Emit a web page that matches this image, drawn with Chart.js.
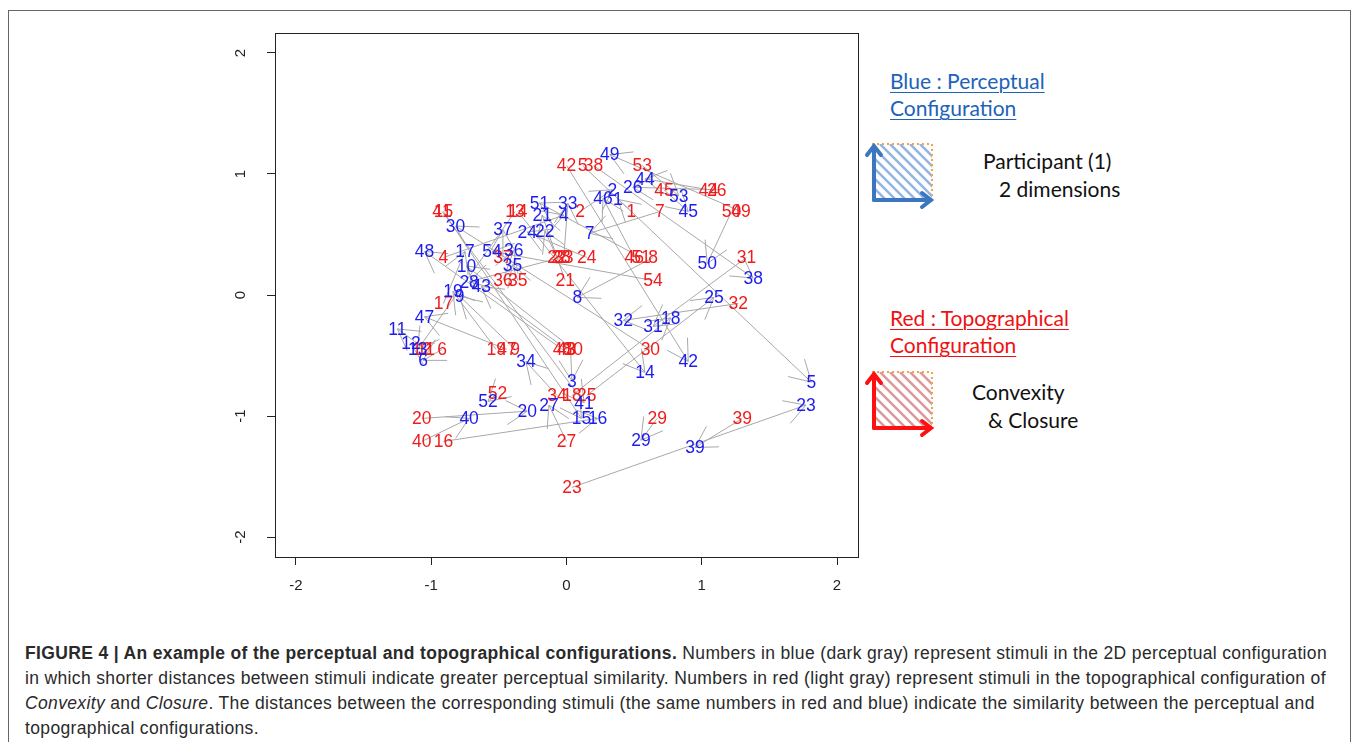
<!DOCTYPE html>
<html lang="en">
<head>
<meta charset="UTF-8" />
<title>Figure 4 | Perceptual and topographical configurations</title>
<script src="https://cdn.jsdelivr.net/npm/chart.js"></script>
<style>
  body { margin: 0; width: 1358px; height: 742px; background: #fff; position: relative; overflow: hidden; font-family: "Liberation Sans", Arial, sans-serif; }
  #frame { position: absolute; left: 8px; top: 10px; width: 1341px; height: 760px; border: 1px solid #666; }
  #plot { position: absolute; left: 220px; top: 20px; }
  .leg { position: absolute; font-family: Lato, "Open Sans", sans-serif; font-size: 21px; line-height: 21px; white-space: nowrap; color: #111; }
  .blue { color: #2063b8; text-decoration: underline; text-underline-offset: 3px; text-decoration-thickness: 1px; }
  .red { color: #ee1111; text-decoration: underline; text-underline-offset: 3px; text-decoration-thickness: 1px; }
  #caption { position: absolute; left: 25px; top: 641px; font-size: 17.5px; letter-spacing: 0.35px; line-height: 25px; color: #2a2a2a; white-space: nowrap; }
  #keys { position: absolute; left: 860px; top: 130px; }
</style>
</head>
<body>
  <div id="frame"></div>
  <canvas id="plot" width="660" height="600"></canvas>

  <!-- legend on the right -->
  <div class="leg blue" style="left:890px; top:70px;">Blue : Perceptual</div>
  <div class="leg blue" style="left:890px; top:97px;">Configuration</div>
  <div class="leg" style="left:983px; top:150px;">Participant (1)</div>
  <div class="leg" style="left:999px; top:178px;">2 dimensions</div>
  <div class="leg red" style="left:890px; top:307px;">Red : Topographical</div>
  <div class="leg red" style="left:890px; top:334px;">Configuration</div>
  <div class="leg" style="left:972px; top:381px;">Convexity</div>
  <div class="leg" style="left:988px; top:409px;">&amp; Closure</div>

  <svg id="keys" width="90" height="320" xmlns="http://www.w3.org/2000/svg">
    <defs>
      <clipPath id="cb"><rect x="12" y="14" width="60" height="56" /></clipPath>
      <clipPath id="cr"><rect x="12" y="242" width="60" height="56" /></clipPath>
    </defs>
    <g clip-path="url(#cb)" stroke="#92b6e2" stroke-width="2.5">
      <path d="M-50 14 l70 70 M-40 14 l70 70 M-30 14 l70 70 M-20 14 l70 70 M-10 14 l70 70 M0 14 l70 70 M10 14 l70 70 M20 14 l70 70 M30 14 l70 70 M40 14 l70 70 M50 14 l70 70 M60 14 l70 70" />
    </g>
    <g clip-path="url(#cr)" stroke="#dc9a9a" stroke-width="2.5">
      <path d="M-50 242 l70 70 M-40 242 l70 70 M-30 242 l70 70 M-20 242 l70 70 M-10 242 l70 70 M0 242 l70 70 M10 242 l70 70 M20 242 l70 70 M30 242 l70 70 M40 242 l70 70 M50 242 l70 70 M60 242 l70 70" />
    </g>
    <path d="M12 14 H72 V70" fill="none" stroke="#f3a14a" stroke-width="2" stroke-dasharray="2 3" />
    <path d="M12 242 H72 V298" fill="none" stroke="#f3a14a" stroke-width="2" stroke-dasharray="2 3" />
    <g stroke="#3c76c0" stroke-width="4" fill="none" stroke-linecap="round">
      <path d="M14 70 V17 M7 25 L14 16 L21 25" />
      <path d="M14 70 H70 M62 63 L71 70 L62 77" />
    </g>
    <g stroke="#ff1010" stroke-width="4" fill="none" stroke-linecap="round">
      <path d="M14 298 V245 M7 253 L14 244 L21 253" />
      <path d="M14 298 H70 M62 291 L71 298 L62 305" />
    </g>
  </svg>

  <div id="caption">
    <b>FIGURE 4 | An example of the perceptual and topographical configurations.</b> Numbers in blue (dark gray) represent stimuli in the 2D perceptual configuration<br>
    in which shorter distances between stimuli indicate greater perceptual similarity. Numbers in red (light gray) represent stimuli in the topographical configuration of<br>
    <i>Convexity</i> and <i>Closure</i>. The distances between the corresponding stimuli (the same numbers in red and blue) indicate the similarity between the perceptual and<br>
    topographical configurations.
  </div>

  <script>
    // stimulus numbers
    const ids = [1, 2, 3, 4, 5, 6, 7, 8, 9, 10, 11, 12, 13, 14, 15, 16, 17, 18, 19, 20,
      21, 22, 23, 24, 25, 26, 27, 28, 29, 30, 31, 32, 33, 34, 35, 36, 37, 38, 39, 40,
      41, 42, 43, 44, 45, 46, 47, 48, 49, 50, 51, 52, 53, 54];

    // blue: perceptual configuration (participant 1, 2 dimensions)
    const blueX = [0.38, 0.34, 0.04, -0.02, 1.81, -1.06, 0.17, 0.08, -0.79, -0.74,
      -1.25, -1.15, -1.10, 0.58, 0.11, 0.23, -0.75, 0.77, -0.84, -0.29,
      -0.18, -0.16, 1.77, -0.29, 1.09, 0.49, -0.13, -0.72, 0.55, -0.82,
      0.64, 0.42, 0.01, -0.30, -0.40, -0.39, -0.47, 1.38, 0.95, -0.72,
      0.13, 0.90, -0.63, 0.58, 0.90, 0.27, -1.05, -1.05, 0.32, 1.04,
      -0.20, -0.58, 0.83, -0.55];
    const blueY = [0.79, 0.87, -0.71, 0.66, -0.72, -0.54, 0.51, -0.02, -0.01, 0.24,
      -0.28, -0.40, -0.45, -0.64, -1.02, -1.02, 0.36, -0.19, 0.03, -0.96,
      0.66, 0.53, -0.91, 0.52, -0.02, 0.89, -0.91, 0.11, -1.20, 0.57,
      -0.26, -0.21, 0.76, -0.55, 0.25, 0.37, 0.54, 0.14, -1.26, -1.02,
      -0.89, -0.55, 0.07, 0.96, 0.69, 0.80, -0.18, 0.36, 1.16, 0.26,
      0.76, -0.88, 0.82, 0.36];

    // red: topographical configuration (convexity & closure)
    const redX = [0.48, 0.10, 0.03, -0.91, 0.12, -0.92, 0.69, 0.64, -0.38, 0.05,
      -1.04, -1.07, -0.38, -0.36, -0.91, -0.91, -0.91, 0.04, -0.52, -1.07,
      -0.01, -0.07, 0.04, 0.15, 0.15, 1.11, 0.00, -0.04, 0.67, 0.62,
      1.33, 1.27, -0.02, -0.07, -0.36, -0.47, -0.47, 0.20, 1.30, -1.07,
      -0.92, 0.00, 0.00, 1.05, 0.72, 0.50, -0.44, -0.03, 1.29, 1.22,
      0.55, -0.51, 0.56, 0.64];
    const redY = [0.69, 0.69, -0.45, 0.31, 1.07, -0.45, 0.69, 0.31, -0.45, -0.45,
      -0.45, -0.45, 0.69, 0.69, 0.69, -1.21, -0.07, -0.83, -0.45, -1.02,
      0.12, 0.31, -1.59, 0.31, -0.83, 0.87, -1.21, 0.31, -1.02, -0.45,
      0.31, -0.07, 0.31, -0.83, 0.12, 0.12, 0.31, 1.07, -1.02, -1.21,
      0.69, 1.07, -0.45, 0.87, 0.87, 0.31, -0.45, -0.45, 0.69, 0.69,
      0.31, -0.81, 1.07, 0.12];

    const xTicks = [-2, -1, 0, 1, 2];
    const yTicks = [-2, -1, 0, 1, 2];

    const blueCol = '#1c1cf0';
    const redCol = '#f01c1c';
    const lineCol = '#a8a8a8';

    // one segment per stimulus, red -> blue
    const segs = ids.map((id, i) => ({
      type: 'line',
      data: [{ x: redX[i], y: redY[i] }, { x: blueX[i], y: blueY[i] }],
      showLine: true,
      borderColor: lineCol,
      borderWidth: 1,
      pointRadius: 0,
      fill: false
    }));

    const labels = {
      id: 'labels',
      afterDatasetsDraw(chart) {
        const { ctx, chartArea, scales: { x, y } } = chart;
        ctx.save();
        // arrow heads at the blue end
        ctx.strokeStyle = lineCol;
        ctx.lineWidth = 1;
        ids.forEach((id, i) => {
          const bx = x.getPixelForValue(blueX[i]), by = y.getPixelForValue(blueY[i]);
          const rx = x.getPixelForValue(redX[i]), ry = y.getPixelForValue(redY[i]);
          if (Math.hypot(rx - bx, ry - by) < 2) return;
          const a = Math.atan2(ry - by, rx - bx);
          [-Math.PI / 6, Math.PI / 6].forEach(d => {
            ctx.beginPath();
            ctx.moveTo(bx, by);
            ctx.lineTo(bx + 24 * Math.cos(a + d), by + 24 * Math.sin(a + d));
            ctx.stroke();
          });
        });

        ctx.font = '17.5px "Liberation Sans", Arial, sans-serif';
        ctx.textAlign = 'center';
        ctx.textBaseline = 'middle';
        ctx.fillStyle = redCol;
        ids.forEach((id, i) => ctx.fillText(String(id), x.getPixelForValue(redX[i]), y.getPixelForValue(redY[i]) + 1));
        ctx.fillStyle = blueCol;
        ids.forEach((id, i) => ctx.fillText(String(id), x.getPixelForValue(blueX[i]), y.getPixelForValue(blueY[i]) + 1));

        // plot box
        ctx.strokeStyle = '#222';
        ctx.lineWidth = 1;
        ctx.strokeRect(Math.round(chartArea.left) + 0.5, Math.round(chartArea.top) + 0.5,
          Math.round(chartArea.right - chartArea.left), Math.round(chartArea.bottom - chartArea.top));

        // y tick labels, R style (rotated)
        ctx.fillStyle = '#222';
        ctx.font = '15px "Liberation Sans", Arial, sans-serif';
        yTicks.forEach(v => {
          ctx.save();
          ctx.translate(chartArea.left - 34, y.getPixelForValue(v));
          ctx.rotate(-Math.PI / 2);
          ctx.fillText(String(v), 0, 0);
          ctx.restore();
        });
        ctx.restore();
      }
    };

    new Chart(document.getElementById('plot'), {
      type: 'scatter',
      data: { datasets: segs },
      options: {
        responsive: false,
        animation: false,
        layout: { padding: { top: 13, right: 22, left: 0, bottom: 0 } },
        plugins: { legend: { display: false }, tooltip: { enabled: false } },
        scales: {
          x: {
            type: 'linear', min: -2.155, max: 2.155,
            afterBuildTicks: s => { s.ticks = xTicks.map(v => ({ value: v })); },
            afterFit: s => { s.height = 63; },
            grid: { drawOnChartArea: false, drawTicks: true, tickLength: 8, color: '#222' },
            border: { display: false },
            ticks: { padding: 12, color: '#222', font: { family: '"Liberation Sans", Arial', size: 15 }, maxRotation: 0 }
          },
          y: {
            type: 'linear', min: -2.165, max: 2.165,
            afterBuildTicks: s => { s.ticks = yTicks.map(v => ({ value: v })); },
            afterFit: s => { s.width = 55; },
            grid: { drawOnChartArea: false, drawTicks: true, tickLength: 8, color: '#222' },
            border: { display: false },
            ticks: { display: false }
          }
        }
      },
      plugins: [labels]
    });
  </script>
</body>
</html>
